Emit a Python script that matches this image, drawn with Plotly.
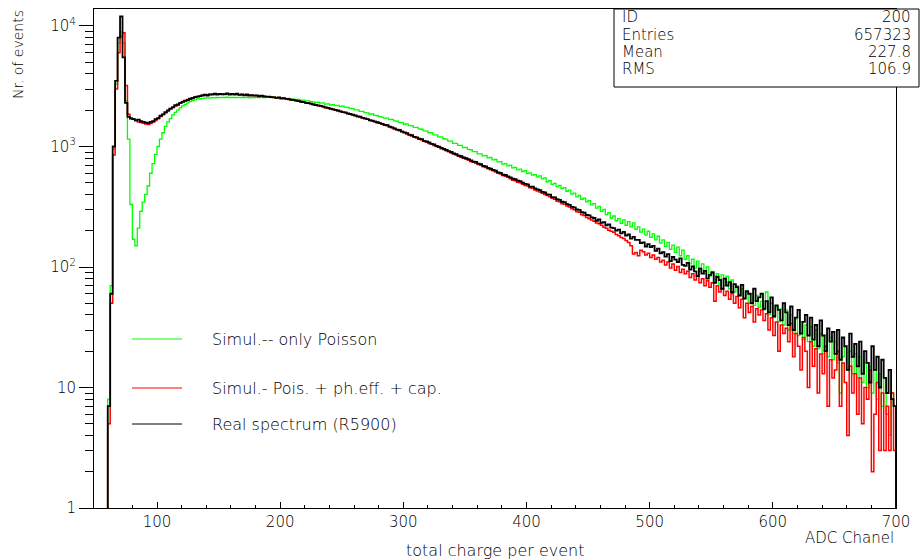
import numpy as np
import plotly.graph_objects as go

# ---------------- data ----------------
bin_lo, bin_hi, bin_w = 50, 700, 2   # ADC channel binning

real_spectrum = [
    0, 0, 0, 0, 0, 7, 60, 1000, 3500, 8000,                              # 50-70
    12000, 5500, 2300, 1760, 1700, 1690, 1650, 1670, 1620, 1600,         # 70-90
    1575, 1560, 1600, 1620, 1690, 1720, 1800, 1850, 1930, 1990,          # 90-110
    2060, 2110, 2200, 2220, 2300, 2350, 2400, 2430, 2490, 2520,          # 110-130
    2570, 2590, 2620, 2650, 2690, 2650, 2710, 2690, 2740, 2700,          # 130-150
    2730, 2710, 2720, 2760, 2690, 2730, 2700, 2740, 2680, 2700,          # 150-170
    2660, 2700, 2650, 2670, 2640, 2660, 2610, 2640, 2600, 2590,          # 170-190
    2590, 2570, 2560, 2530, 2560, 2500, 2520, 2480, 2470, 2440,          # 190-210
    2430, 2400, 2380, 2350, 2340, 2300, 2290, 2270, 2230, 2210,          # 210-230
    2190, 2170, 2140, 2110, 2090, 2060, 2030, 2010, 1990, 1960,          # 230-250
    1930, 1920, 1880, 1860, 1830, 1810, 1780, 1770, 1730, 1710,          # 250-270
    1690, 1650, 1640, 1610, 1590, 1560, 1540, 1510, 1500, 1460,          # 270-290
    1440, 1410, 1380, 1370, 1330, 1310, 1290, 1250, 1240, 1200,          # 290-310
    1190, 1160, 1150, 1110, 1100, 1080, 1050, 1040, 1010, 995,           # 310-330
    975, 955, 935, 915, 900, 875, 865, 840, 830, 810,                    # 330-350
    800, 785, 765, 750, 745, 720, 715, 690, 685, 665,                    # 350-370
    655, 640, 630, 610, 605, 585, 580, 565, 555, 540,                    # 370-390
    535, 520, 515, 500, 490, 485, 465, 465, 450, 440,                    # 390-410
    435, 420, 415, 400, 398, 380, 378, 365, 360, 348,                    # 410-430
    345, 332, 328, 315, 312, 300, 298, 285, 282, 270,                    # 430-450
    268, 258, 255, 242, 248, 232, 236, 222, 226, 212,                    # 450-470
    210, 200, 204, 190, 196, 182, 186, 172, 178, 168,                    # 470-490
    168, 158, 160, 148, 155, 146, 150, 136, 142, 130,                    # 490-510
    133, 122, 128, 112, 121, 115, 110, 118, 104, 102,                    # 510-530
    108, 95, 101, 92, 84, 97, 88, 93, 80, 86,                            # 530-550
    90, 74, 83, 78, 66, 80, 70, 75, 62, 72,                              # 550-570
    68, 58, 71, 55, 63, 60, 50, 66, 52, 56,                              # 570-590
    60, 45, 52, 42, 56, 39, 48, 44, 36, 50,                              # 590-610
    42, 33, 47, 30, 38, 44, 28, 35, 40, 27,                              # 610-630
    38, 25, 33, 22, 36, 27, 20, 31, 24, 29,                              # 630-650
    19, 30, 17, 26, 22, 14, 28, 18, 23, 15,                              # 650-670
    24, 13, 20, 16, 11, 22, 14, 18, 10, 17,                              # 670-690
    12, 9, 14, 8, 7,                                                     # 690-700
]

sim_full = [
    0, 0, 0, 0, 0, 5, 50, 850, 3000, 6000,                               # 50-70
    8200, 8800, 3200, 1850, 1720, 1680, 1640, 1600, 1580, 1560,          # 70-90
    1540, 1520, 1550, 1600, 1640, 1700, 1770, 1840, 1900, 1980,          # 90-110
    2050, 2120, 2170, 2240, 2290, 2360, 2390, 2450, 2480, 2540,          # 110-130
    2560, 2600, 2610, 2660, 2670, 2680, 2700, 2710, 2720, 2710,          # 130-150
    2720, 2730, 2700, 2740, 2710, 2720, 2720, 2710, 2690, 2700,          # 150-170
    2680, 2670, 2670, 2650, 2650, 2640, 2630, 2620, 2610, 2590,          # 170-190
    2580, 2560, 2560, 2540, 2530, 2510, 2500, 2490, 2460, 2450,          # 190-210
    2420, 2410, 2370, 2360, 2330, 2310, 2280, 2260, 2240, 2200,          # 210-230
    2180, 2160, 2150, 2100, 2090, 2050, 2040, 2000, 1980, 1950,          # 230-250
    1920, 1910, 1870, 1850, 1840, 1800, 1770, 1750, 1720, 1700,          # 250-270
    1680, 1660, 1620, 1610, 1570, 1560, 1530, 1500, 1490, 1450,          # 270-290
    1430, 1400, 1380, 1350, 1330, 1300, 1270, 1260, 1220, 1200,          # 290-310
    1180, 1150, 1130, 1110, 1090, 1060, 1050, 1020, 1000, 985,           # 310-330
    960, 945, 920, 905, 885, 870, 850, 830, 815, 800,                    # 330-350
    785, 770, 750, 740, 725, 710, 700, 680, 670, 655,                    # 350-370
    640, 630, 615, 600, 590, 575, 565, 555, 540, 525,                    # 370-390
    520, 505, 500, 485, 475, 470, 455, 450, 435, 428,                    # 390-410
    420, 410, 400, 392, 382, 372, 365, 352, 348, 335,                    # 410-430
    332, 320, 314, 304, 298, 288, 284, 272, 268, 258,                    # 430-450
    252, 246, 240, 232, 228, 222, 214, 210, 202, 198,                    # 450-470
    194, 186, 182, 176, 172, 166, 160, 150, 128, 132,                    # 470-490
    124, 138, 134, 126, 130, 120, 126, 116, 120, 110,                    # 490-510
    114, 104, 110, 98, 106, 94, 101, 90, 96, 88,                         # 510-530
    92, 82, 88, 78, 84, 74, 80, 70, 77, 68,                              # 530-550
    74, 52, 70, 62, 66, 58, 63, 54, 60, 50,                              # 550-570
    57, 46, 54, 38, 50, 42, 47, 35, 45, 40,                              # 570-590
    44, 36, 41, 30, 38, 27, 35, 20, 33, 28,                              # 590-610
    31, 24, 34, 18, 28, 22, 14, 26, 20, 10,                              # 610-630
    24, 15, 21, 9, 19, 13, 22, 7, 17, 12,                                # 630-650
    14, 20, 7, 16, 11, 4, 15, 9, 13, 6,                                  # 650-670
    12, 5, 10, 8, 14, 2, 6, 11, 3, 9,                                    # 670-690
    3, 7, 3, 9, 3,                                                       # 690-700
]

sim_poisson = [
    0, 0, 0, 0, 0, 8, 70, 950, 3300, 7200,                               # 50-70
    9000, 7200, 2400, 1150, 330, 170, 150, 210, 290, 345,                # 70-90
    400, 470, 600, 720, 860, 1000, 1150, 1300, 1470, 1600,               # 90-110
    1700, 1830, 1920, 2000, 2090, 2170, 2240, 2300, 2360, 2420,          # 110-130
    2440, 2480, 2490, 2510, 2520, 2530, 2520, 2540, 2530, 2550,          # 130-150
    2540, 2560, 2550, 2570, 2540, 2560, 2550, 2540, 2560, 2550,          # 150-170
    2540, 2560, 2530, 2550, 2540, 2560, 2550, 2570, 2540, 2560,          # 170-190
    2560, 2540, 2570, 2530, 2550, 2520, 2540, 2500, 2510, 2480,          # 190-210
    2480, 2450, 2460, 2420, 2430, 2390, 2390, 2360, 2350, 2320,          # 210-230
    2330, 2290, 2300, 2250, 2260, 2210, 2220, 2180, 2190, 2150,          # 230-250
    2160, 2120, 2110, 2070, 2060, 2010, 2010, 1960, 1960, 1910,          # 250-270
    1900, 1860, 1860, 1810, 1800, 1770, 1750, 1720, 1720, 1670,          # 270-290
    1680, 1630, 1620, 1580, 1580, 1530, 1540, 1490, 1490, 1440,          # 290-310
    1440, 1400, 1390, 1350, 1340, 1300, 1300, 1250, 1250, 1200,          # 310-330
    1200, 1160, 1150, 1110, 1110, 1060, 1060, 1020, 1020, 980,           # 330-350
    985, 945, 940, 905, 905, 870, 870, 835, 840, 805,                    # 350-370
    810, 775, 780, 745, 750, 715, 720, 690, 700, 665,                    # 370-390
    670, 640, 650, 620, 630, 595, 605, 580, 585, 560,                    # 390-410
    570, 538, 548, 510, 520, 485, 495, 465, 475, 448,                    # 410-430
    455, 425, 435, 402, 410, 382, 392, 365, 372, 348,                    # 430-450
    355, 328, 336, 308, 318, 290, 300, 272, 282, 255,                    # 450-470
    265, 242, 252, 230, 246, 222, 238, 215, 232, 205,                    # 470-490
    215, 195, 206, 184, 198, 176, 188, 168, 180, 158,                    # 490-510
    168, 148, 160, 140, 152, 132, 146, 124, 138, 116,                    # 510-530
    124, 106, 116, 98, 112, 92, 106, 88, 100, 84,                        # 530-550
    92, 78, 88, 72, 86, 70, 84, 66, 78, 62,                              # 550-570
    70, 58, 66, 54, 62, 50, 60, 48, 58, 46,                              # 570-590
    52, 44, 62, 40, 50, 38, 47, 35, 45, 33,                              # 590-610
    44, 30, 40, 28, 37, 27, 35, 25, 33, 24,                              # 610-630
    32, 22, 30, 21, 28, 19, 27, 18, 26, 17,                              # 630-650
    24, 16, 9, 18, 22, 14, 20, 13, 19, 12,                               # 650-670
    18, 11, 16, 10, 15, 9, 14, 8, 13, 7,                                 # 670-690
    12, 6, 4, 9, 7,                                                      # 690-700
]

legend_labels = ["Simul.-- only Poisson",
                 "Simul.- Pois. + ph.eff. + cap.",
                 "Real spectrum (R5900)"]
stat_labels = ["ID", "Entries", "Mean", "RMS"]
stat_values = ["200", "657323", "227.8", "106.9"]
y_tickvals = [1, 10, 100, 1000, 10000]
y_ticktext = ["1", "10", "10<sup>2</sup>", "10<sup>3</sup>", "10<sup>4</sup>"]

# ---------------- figure ----------------
FONT = "DejaVu Sans"
WEIGHT = 200
edges = np.arange(bin_lo, bin_hi + bin_w, bin_w)
FLOOR = 0.3  # empty bins drawn below the axis floor (clipped)


def fnt(size):
    return dict(family=FONT, size=size, color="black", weight=WEIGHT)


fig = go.Figure()
series = [
    (sim_poisson, "#00ff00", 1.3),
    (sim_full, "#ff0000", 1.5),
    (real_spectrum, "#000000", 1.8),
]
for vals, color, w in series:
    y = np.array(vals, dtype=float)
    y = np.where(y > 0, y, FLOOR)
    x = np.append(edges[:-1], edges[-1])
    y = np.append(y, FLOOR)
    fig.add_trace(go.Scatter(x=x, y=y, mode="lines",
                             line=dict(shape="hv", color=color, width=w),
                             showlegend=False, hoverinfo="skip"))

W, H = 920, 560
L, R, T, B = 94, 24, 9, 52
pw, ph = W - L - R, H - T - B


def px(xp):
    return (xp - L) / pw


def py(yp):
    return (H - B - yp) / ph


shapes = []
annotations = []

# legend drawn inside the frame
leg_rows = [339, 388, 424]
for lab, (vals, color, w), yrow in zip(legend_labels, series, leg_rows):
    shapes.append(dict(type="line", xref="paper", yref="paper",
                       x0=px(132), x1=px(182), y0=py(yrow), y1=py(yrow),
                       line=dict(color=color, width=1)))
    annotations.append(dict(text=lab, xref="paper", yref="paper",
                            x=px(210), y=py(yrow), xanchor="left", yanchor="middle",
                            showarrow=False, font=fnt(16)))

# statistics box
shapes.append(dict(type="rect", xref="paper", yref="paper",
                   x0=px(614), x1=px(919), y0=py(87), y1=py(9),
                   line=dict(color="black", width=1), fillcolor="white", layer="above"))
stat_rows = [17, 34.5, 52, 69.5]
for lab, val, yrow in zip(stat_labels, stat_values, stat_rows):
    annotations.append(dict(text=lab, xref="paper", yref="paper", x=px(620), y=py(yrow),
                            xanchor="left", yanchor="middle", showarrow=False, font=fnt(15)))
    annotations.append(dict(text=val, xref="paper", yref="paper", x=px(913), y=py(yrow),
                            xanchor="right", yanchor="middle", showarrow=False, font=fnt(15)))

# axis titles
annotations.append(dict(text="Nr. of events", xref="paper", yref="paper",
                        x=px(18), y=py(55), xanchor="center", yanchor="middle",
                        textangle=-90, showarrow=False, font=fnt(14)))
annotations.append(dict(text="ADC Chanel", xref="paper", yref="paper",
                        x=px(896), y=py(538), xanchor="right", yanchor="middle",
                        showarrow=False, font=fnt(15)))
annotations.append(dict(text="total charge per event", xref="paper", yref="paper",
                        x=px(495), y=py(550), xanchor="center", yanchor="middle",
                        showarrow=False, font=fnt(16)))

minor_y = [m * 10 ** e for e in range(0, 5) for m in range(2, 10)]

fig.update_layout(
    width=W, height=H,
    margin=dict(l=L, r=R, t=T, b=B),
    paper_bgcolor="white", plot_bgcolor="white",
    shapes=shapes, annotations=annotations,
    xaxis=dict(range=[48.85, 700], showline=True, linecolor="black", linewidth=1,
               mirror=True, ticks="inside", ticklen=6, tickcolor="black",
               tick0=0, dtick=100, showgrid=False, zeroline=False,
               minor=dict(dtick=20, tick0=0, ticks="inside", ticklen=3, tickcolor="black"),
               tickfont=fnt(15)),
    yaxis=dict(type="log", range=[0, 4.141], showline=True, linecolor="black", linewidth=1,
               mirror=True, ticks="outside", ticklen=14, tickcolor="black",
               tickmode="array", tickvals=y_tickvals, ticktext=y_ticktext,
               showgrid=False, zeroline=False,
               minor=dict(tickmode="array", tickvals=minor_y, ticks="outside",
                          ticklen=8, tickcolor="black"),
               tickfont=fnt(15)),
)

fig.write_html("out.html", config={"displayModeBar": False},
               post_script="document.body.style.margin='0px';")
